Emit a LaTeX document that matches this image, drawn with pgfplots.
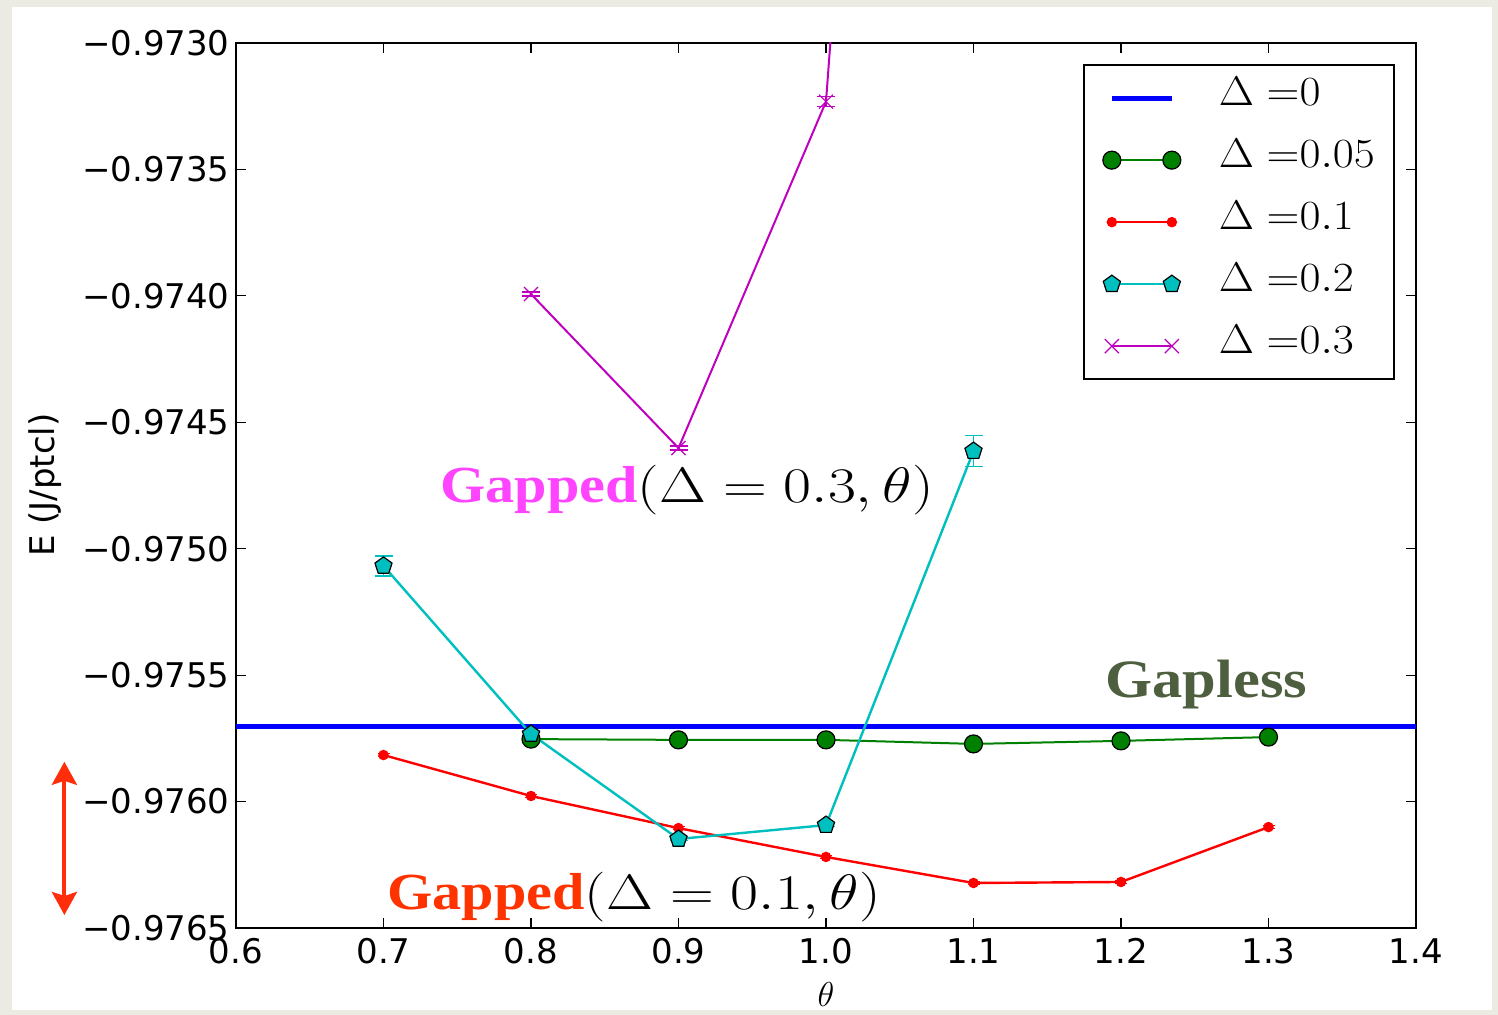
\documentclass[border=0pt]{standalone}
\usepackage[no-math]{fontspec}
\usepackage{graphicx}
\usepackage{pgfplots}
\pgfplotsset{compat=1.18}
\usetikzlibrary{arrows.meta}
\newfontfamily\djv{DejaVu Sans}
\newfontfamily\tms{Liberation Serif}

\definecolor{paper}{RGB}{236,235,227}
\definecolor{mplb}{rgb}{0,0,1}
\definecolor{mplg}{rgb}{0,0.5,0}
\definecolor{mplr}{rgb}{1,0,0}
\definecolor{mplc}{rgb}{0,0.75,0.75}
\definecolor{mplm}{rgb}{0.75,0,0.75}
\definecolor{annmag}{RGB}{255,68,255}
\definecolor{annred}{RGB}{255,51,0}
\definecolor{anngreen}{RGB}{78,95,63}
\definecolor{arrred}{RGB}{255,45,10}

% energy per particle E(theta) for several gap sizes
\pgfplotstableread{
x     y          e
0.8   -0.975753  0.000004
0.9   -0.975756  0.000004
1.0   -0.975756  0.000004
1.1   -0.975772  0.000004
1.2   -0.975760  0.000004
1.3   -0.975745  0.000004
}\gapA
\pgfplotstableread{
x     y          e
0.7   -0.975816  0.000006
0.8   -0.975978  0.000006
0.9   -0.976105  0.000006
1.0   -0.976219  0.000006
1.1   -0.976322  0.000006
1.2   -0.976318  0.000006
1.3   -0.976101  0.000006
}\gapB
\pgfplotstableread{
x     y          e
0.7   -0.975068  0.000040
0.8   -0.975733  0.000006
0.9   -0.976148  0.000006
1.0   -0.976093  0.000006
1.1   -0.974614  0.000061
}\gapC
\pgfplotstableread{
x     y          e
0.8   -0.973993  0.000008
0.9   -0.974602  0.000008
1.0   -0.973232  0.000020
1.1   -0.965357  0.000020
}\gapD

\newcommand\annmath[1]{\scalebox{1.09}[1]{\fontsize{24.88}{25}\selectfont$#1$}}

\begin{document}
\begin{tikzpicture}
\path[use as bounding box] (0pt,0pt) rectangle (749pt,507.5pt);
\fill[paper] (0pt,0pt) rectangle (749pt,507.5pt);
\fill[white] (6pt,2.5pt) rectangle (746pt,504pt);

\begin{axis}[
  at={(118pt,43.5pt)}, anchor=south west, scale only axis,
  width=590pt, height=442.5pt,
  xmin=0.6, xmax=1.4, ymin=-0.9765, ymax=-0.9730,
  xtick={0.6,0.7,0.8,0.9,1.0,1.1,1.2,1.3,1.4},
  xticklabels={0.6,0.7,0.8,0.9,1.0,1.1,1.2,1.3,1.4},
  ytick={-0.9765,-0.9760,-0.9755,-0.9750,-0.9745,-0.9740,-0.9735,-0.9730},
  yticklabels={−0.9765,−0.9760,−0.9755,−0.9750,−0.9745,−0.9740,−0.9735,−0.9730},
  scaled y ticks=false, scaled x ticks=false,
  tick align=inside, major tick length=5pt,
  every tick/.style={black, line width=0.6pt},
  axis line style={line width=1.2pt},
  ticklabel style={font=\djv\fontsize{17}{17}\selectfont},
  yticklabel style={anchor=east, inner sep=0pt, xshift=-3pt},
  xticklabel style={anchor=north, inner sep=0pt, yshift=-5pt},
  legend cell align=left,
  legend image code/.code={\draw[#1] plot[mark repeat=2, mark phase=1] coordinates {(0pt,0pt) (15pt,0pt) (30pt,0pt)};},
  legend style={at={(0.9822,0.9763)}, anchor=north east, draw=black, line width=1.2pt,
    fill=white, font=\fontsize{19.5}{19.5}\selectfont,
    inner xsep=9.5pt, inner ysep=9pt, column sep=19pt, row sep=16pt,
    nodes={inner sep=0pt, text height=11pt, text depth=4pt}},
]
\addplot[mplb, line width=2.5pt] coordinates {(0.6,-0.975705) (1.4,-0.975705)};
\addlegendentry{\scalebox{1.1}[1]{$\Delta\;{=}0$}}

\addplot[mplg, line width=1pt, mark=*, mark size=4.5pt,
  mark options={fill=mplg, draw=black, line width=0.6pt},
  error bars/.cd, y dir=both, y explicit,
  error bar style={mplg, line width=0.8pt},
  error mark options={rotate=90, mark size=3pt, mplg}]
  table[x=x, y=y, y error=e] {\gapA};
\addlegendentry{\scalebox{1.1}[1]{$\Delta\;{=}0.05$}}

\addplot[mplr, line width=1.2pt, mark=*, mark size=2pt,
  mark options={fill=mplr, draw=mplr},
  error bars/.cd, y dir=both, y explicit,
  error bar style={mplr, line width=0.8pt},
  error mark options={rotate=90, mark size=3pt, mplr, line width=0.8pt}]
  table[x=x, y=y, y error=e] {\gapB};
\addlegendentry{\scalebox{1.1}[1]{$\Delta\;{=}0.1$}}

\addplot[mplc, line width=1.2pt, mark=pentagon*, mark size=4.5pt,
  mark options={fill=mplc, draw=black, line width=0.6pt},
  error bars/.cd, y dir=both, y explicit,
  error bar style={mplc, line width=0.8pt},
  error mark options={rotate=90, mark size=4.5pt, mplc, line width=0.8pt}]
  table[x=x, y=y, y error=e] {\gapC};
\addlegendentry{\scalebox{1.1}[1]{$\Delta\;{=}0.2$}}

\addplot[mplm, line width=1pt, mark=x, mark size=5pt,
  mark options={mplm, line width=0.6pt},
  error bars/.cd, y dir=both, y explicit,
  error bar style={mplm, line width=0.6pt},
  error mark options={rotate=90, mark size=4.5pt, mplm, line width=0.6pt}]
  table[x=x, y=y, y error=e] {\gapD};
\addlegendentry{\scalebox{1.1}[1]{$\Delta\;{=}0.3$}}
\end{axis}

% axis titles
\node[rotate=90, font=\djv\fontsize{17}{17}\selectfont] at (22.5pt,265pt) {E (J/ptcl)};
\node[font=\fontsize{17}{17}\selectfont] at (413pt,10pt) {$\theta$};

% phase annotations
\node[anchor=base west, inner sep=0pt] at (220pt,256pt)
  {\scalebox{1.12}[1]{{\fontsize{26}{26}\selectfont\tms\bfseries\color{annmag}Gapped}\annmath{(\Delta = 0.3, \theta)}}};
\node[anchor=base west, inner sep=0pt] at (193.5pt,52.5pt)
  {\scalebox{1.12}[1]{{\fontsize{26}{26}\selectfont\tms\bfseries\color{annred}Gapped}\annmath{(\Delta = 0.1, \theta)}}};
\node[anchor=base west, inner sep=0pt] at (552.5pt,158.5pt)
  {\scalebox{1.12}[1]{\fontsize{27}{27}\selectfont\tms\bfseries\color{anngreen}Gapless}};

% energy window marker
\draw[arrred, line width=2pt, {Stealth[length=11.5pt,width=12.5pt,inset=2pt]}-{Stealth[length=11.5pt,width=12.5pt,inset=2pt]}]
  (32.2pt,126.6pt) -- (32.2pt,50pt);
\end{tikzpicture}
\end{document}
